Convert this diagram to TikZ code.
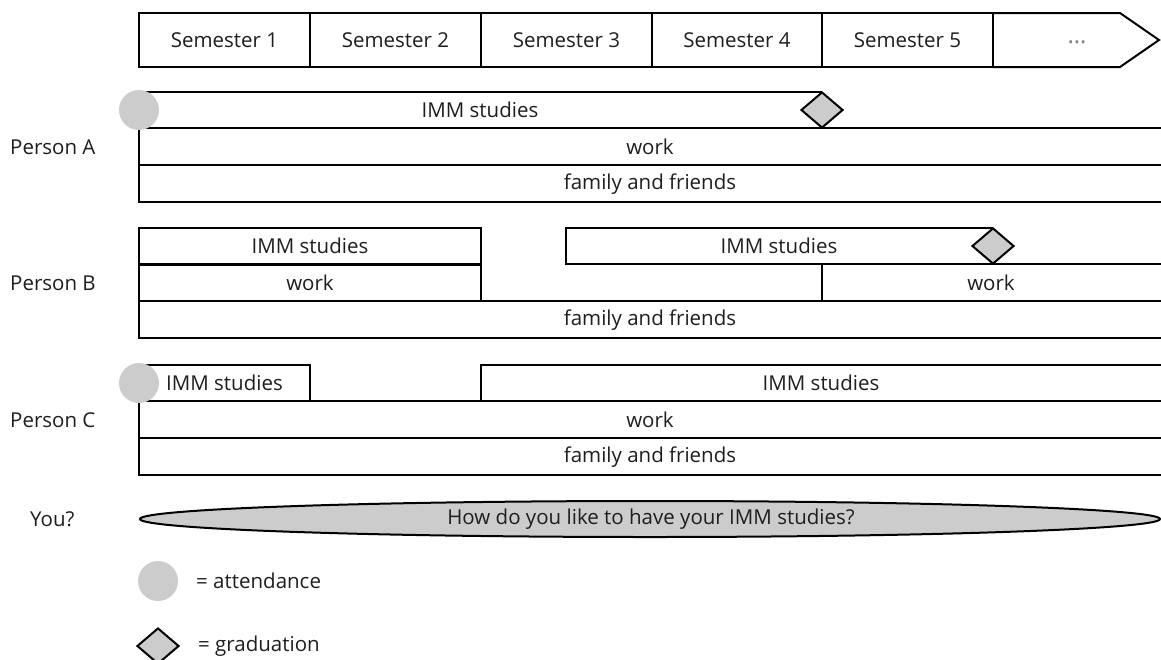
\documentclass[tikz,border=0pt]{standalone}
\usepackage{fontspec}
\setmainfont{Open Sans}
\usetikzlibrary{shapes.geometric}
\definecolor{gr}{HTML}{CCCCCC}
\definecolor{tx}{HTML}{1E1E1E}
\begin{document}
\begin{tikzpicture}[x=1pt,y=-1pt,
  every node/.style={font=\fontsize{20.5}{24}\selectfont, text=tx, inner sep=0pt},
  ln/.style={line width=2pt, line join=miter},
  box/.style={draw, line width=2pt, rectangle},
  att/.style={circle, fill=gr, minimum size=40pt},
  grad/.style={diamond, draw, fill=gr, line width=2pt, minimum width=42pt, minimum height=36pt},
  lbl/.style={anchor=west}]
\useasboundingbox (0,0) rectangle (1161,659);
% semester bar
\foreach \i/\a/\b in {1/139/310,2/310/481,3/481/652,4/652/822,5/822/993}{
  \node[box, minimum width=\b-\a, minimum height=54pt] (s\i) at ({(\a+\b)/2},40) {Semester \i};
}
\draw[ln] (993,13) -- (1120,13) -- (1159,40) -- (1120,67) -- (993,67);
\node (s6) at (1077,42) {\textcolor{gray}{\fontsize{24}{24}\selectfont …}};
% Person A
\draw[ln] (822,92) -- (139,92) -- (139,202) -- (1161,202);
\draw[ln] (139,128) -- (1161,128);
\draw[ln] (139,165) -- (1161,165);
\node (aimm) at (480,110) {IMM studies};
\node (awork) at (650,147) {work};
\node (afam) at (650,184) {family and friends};
\node[att] (acirc) at (139,110) {};
\node[grad] (adia) at (822,110) {};
\node[lbl] (pa) at (10,147) {Person A};
% Person B
\node[box, minimum width=342pt, minimum height=36.5pt] (bimm1) at (310,246) {IMM studies};
\node[box, minimum width=342pt, minimum height=36.5pt] (bwork1) at (310,283) {work};
\draw[ln] (993,228) -- (566,228) -- (566,264) -- (1161,264);
\draw[ln] (822,264) -- (822,301);
\draw[ln] (139,301) -- (1161,301);
\draw[ln] (139,301) -- (139,338) -- (1161,338);
\node (bimm2) at (779,246) {IMM studies};
\node (bwork2) at (991,283) {work};
\node (bfam) at (650,320) {family and friends};
\node[grad] (bdia) at (993,246) {};
\node[lbl] (pb) at (10,283) {Person B};
% Person C
\node[box, minimum width=171pt, minimum height=36.5pt] (cimm1) at (224.5,383) {};
\node (cimm1t) at (224.5,383) {IMM studies};
\draw[ln] (481,401) -- (481,365) -- (1161,365);
\draw[ln] (139,401) -- (1161,401);
\draw[ln] (139,401) -- (139,475) -- (1161,475);
\draw[ln] (139,438) -- (1161,438);
\node (cimm2) at (821,383) {IMM studies};
\node (cwork) at (650,420) {work};
\node (cfam) at (650,457) {family and friends};
\node[att] (ccirc) at (139,383) {};
\node[lbl] (pc) at (10,420) {Person C};
% You
\node[ellipse, draw, fill=gr, line width=2pt, minimum width=1020pt, minimum height=36pt] (you) at (650,519) {};
\node (yout) at (651,519) {How do you like to have your IMM studies?};
\node[lbl] (py) at (30,519) {You?};
% legend
\node[att] (lcirc) at (158,581) {};
\node[lbl] (latt) at (196,581) {= attendance};
\node[grad] (ldia) at (158,646) {};
\node[lbl] (lgrad) at (198,646) {= graduation};
\end{tikzpicture}
\end{document}
